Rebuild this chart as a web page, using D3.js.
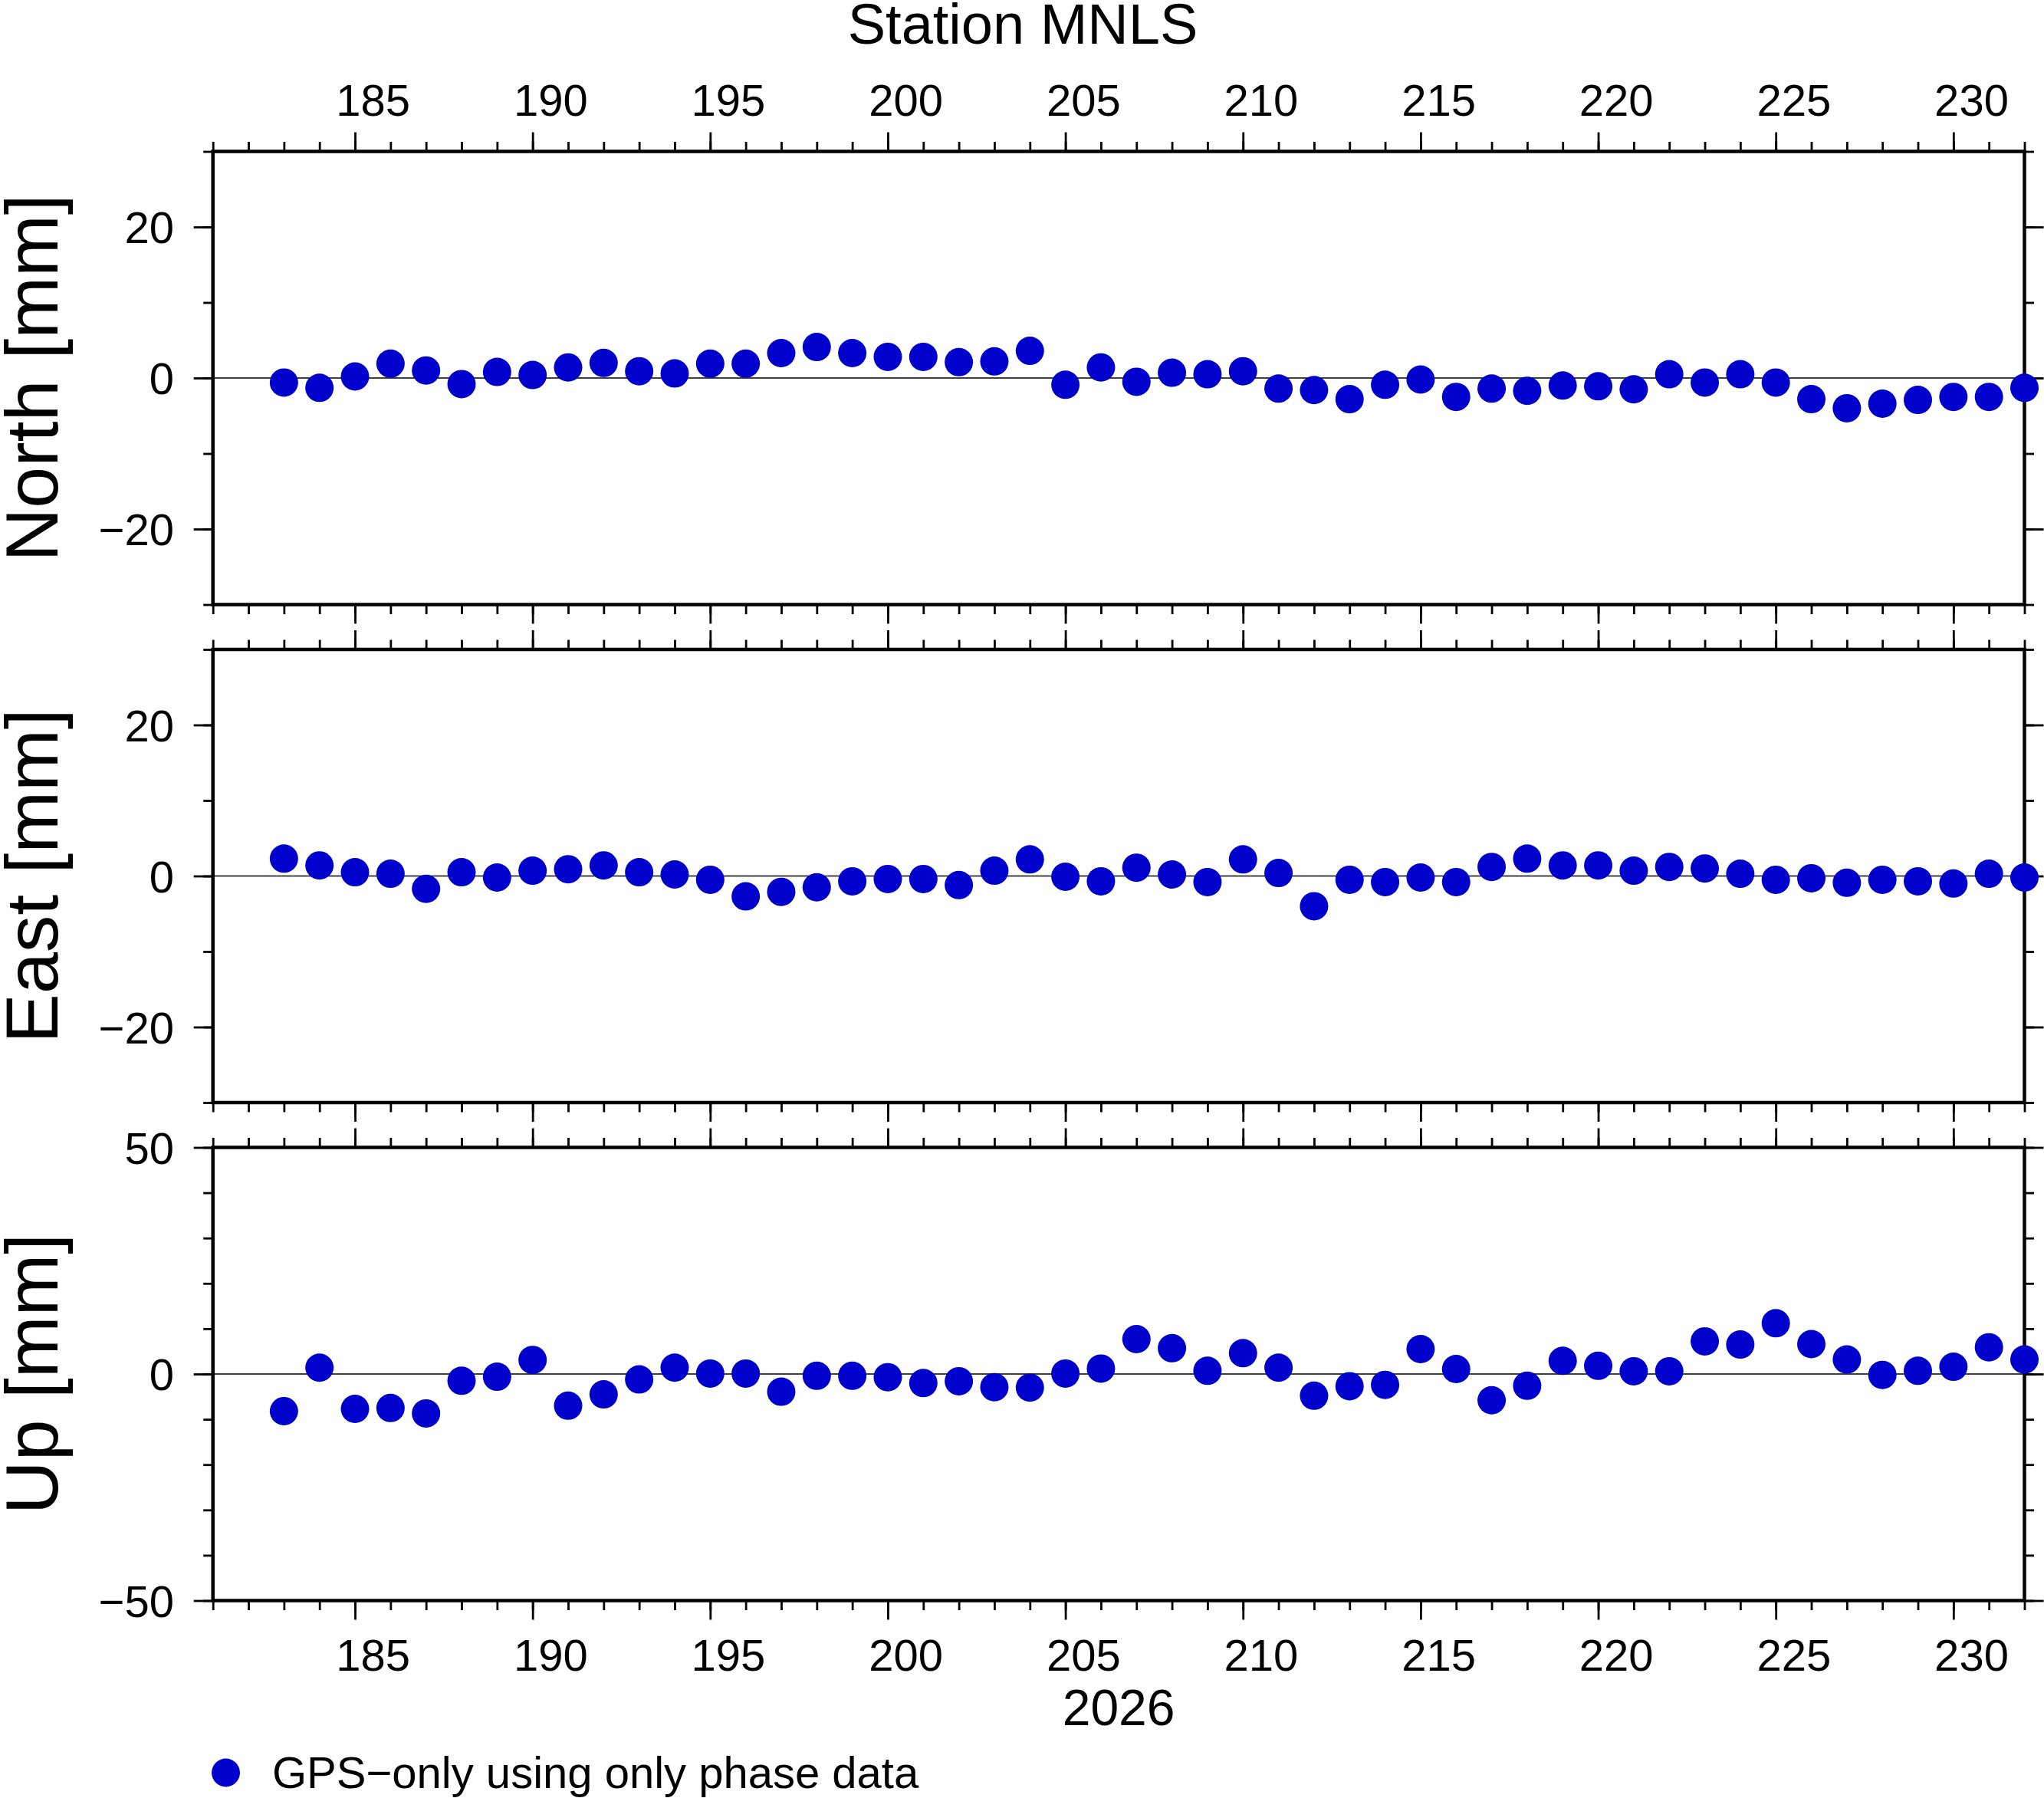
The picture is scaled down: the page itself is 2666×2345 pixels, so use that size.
<!DOCTYPE html>
<html lang="en">
<head>
    <meta charset="UTF-8">
    <title>Station MNLS</title>
    <script src="https://cdn.jsdelivr.net/npm/d3@7"></script>
    <style>
        body { margin: 0; background: #fff; }
        text { font-family: "Liberation Sans", Helvetica, Arial, sans-serif; fill: #000; }
    </style>
</head>
<body>
<script>
    // day of year 2026
    let days = d3.range(183, 233);

    let north = [-0.6, -1.3, 0.2, 1.9, 1.0, -0.8, 0.8, 0.4, 1.4, 2.0,
                 0.9, 0.6, 1.9, 1.9, 3.3, 4.1, 3.3, 2.8, 2.8, 2.1,
                 2.2, 3.6, -0.9, 1.4, -0.5, 0.7, 0.5, 0.9, -1.4, -1.6,
                 -2.8, -0.9, -0.2, -2.5, -1.4, -1.7, -1.0, -1.1, -1.5, 0.5,
                 -0.6, 0.5, -0.6, -2.8, -4.0, -3.4, -2.9, -2.5, -2.5, -1.3];

    let east = [2.3, 1.4, 0.5, 0.3, -1.7, 0.5, -0.2, 0.7, 0.9, 1.4,
                0.5, 0.2, -0.5, -2.7, -2.1, -1.5, -0.7, -0.4, -0.4, -1.2,
                0.7, 2.2, -0.1, -0.7, 1.1, 0.2, -0.8, 2.2, 0.4, -4.0,
                -0.5, -0.8, -0.2, -0.8, 1.2, 2.3, 1.4, 1.4, 0.7, 1.2,
                1.0, 0.3, -0.5, -0.3, -0.9, -0.5, -0.7, -1.0, 0.3, -0.2];

    let up = [-8.2, 1.4, -7.7, -7.5, -8.7, -1.5, -0.6, 3.1, -7.0, -4.5,
              -1.2, 1.4, 0.1, 0.1, -3.9, -0.4, -0.4, -0.7, -2.0, -1.6,
              -2.9, -3.0, 0.1, 1.2, 7.7, 5.7, 0.7, 4.6, 1.4, -4.8,
              -2.7, -2.4, 5.5, 1.1, -5.8, -2.6, 2.9, 1.8, 0.6, 0.6,
              7.2, 6.5, 11.2, 6.6, 3.2, -0.2, 0.7, 1.6, 5.9, 3.2];

    let xDomain = [181, 232];
    let xMajorTicks = [185, 190, 195, 200, 205, 210, 215, 220, 225, 230];

    let panelNames = ["North [mm]", "East [mm]", "Up [mm]"];
    let panelSeries = [north, east, up];
    let yDomains = [[-30, 30], [-30, 30], [-50, 50]];
    let yMajorTicks = [[-20, 0, 20], [-20, 0, 20], [-50, 0, 50]];
    let yMinorStep = 10;

    let title = "Station MNLS";
    let yearLabel = "2026";
    let legendLabel = "GPS\u2212only using only phase data";

    // layout
    let width = 2666, height = 2345;
    let left = 277.7, right = 2640.5;
    let panelTop = 197.5, panelH = 591, panelStep = 649.5;
    let minorLen = 12.5, majorLen = 25;
    let fontTick = 58;
    let dotColor = "#0000cc";
    let dotR = 18.5;

    let svg = d3.select("body")
        .append("svg")
        .attr("width", width)
        .attr("height", height);

    let xScale = d3.scaleLinear()
        .domain(xDomain)
        .range([left, right]);

    let halfDay = xScale(xDomain[0] + 0.5) - xScale(xDomain[0]);
    let xMinorTicks = d3.range(xDomain[0], xDomain[1] + 1);

    function styleAxis(g) {
        g.select(".domain").remove();
        g.selectAll(".tick line").attr("stroke", "#000").attr("stroke-width", 2.8);
        g.attr("font-family", null).attr("font-size", null);
    }

    panelNames.forEach(function (name, i) {
        let top = panelTop + i * panelStep;
        let bottom = top + panelH;
        let yScale = d3.scaleLinear()
            .domain(yDomains[i])
            .range([bottom, top]);
        let yMinor = d3.range(yDomains[i][0], yDomains[i][1] + 1, yMinorStep);

        let g = svg.append("g");

        // zero line
        g.append("line")
            .attr("x1", left).attr("x2", right)
            .attr("y1", yScale(0)).attr("y2", yScale(0))
            .attr("stroke", "#000")
            .attr("stroke-width", 1.3);

        // x ticks, top and bottom
        let isFirst = i === 0, isLast = i === panelNames.length - 1;
        [["top", top, d3.axisTop], ["bottom", bottom, d3.axisBottom]].forEach(function (s) {
            g.append("g")
                .attr("transform", "translate(0," + s[1] + ")")
                .call(s[2](xScale).tickValues(xMinorTicks).tickSize(minorLen).tickFormat(""))
                .call(styleAxis);
            let maj = g.append("g")
                .attr("transform", "translate(0," + s[1] + ")")
                .call(s[2](xScale).tickValues(xMajorTicks).tickSize(majorLen).tickFormat(d3.format("d")))
                .call(styleAxis);
            let showLabels = (s[0] === "top" && isFirst) || (s[0] === "bottom" && isLast);
            if (!showLabels) {
                maj.selectAll("text").remove();
            } else {
                maj.selectAll("text")
                    .attr("x", halfDay)
                    .attr("dy", null)
                    .attr("y", s[0] === "top" ? -(197.5 - 151) : (2178.5 - 2087.4))
                    .attr("text-anchor", "middle")
                    .attr("font-size", fontTick);
            }
        });

        // y ticks, left and right
        [[left, d3.axisLeft], [right, d3.axisRight]].forEach(function (s, k) {
            g.append("g")
                .attr("transform", "translate(" + s[0] + ",0)")
                .call(s[1](yScale).tickValues(yMinor).tickSize(minorLen).tickFormat(""))
                .call(styleAxis);
            let maj = g.append("g")
                .attr("transform", "translate(" + s[0] + ",0)")
                .call(s[1](yScale).tickValues(yMajorTicks[i]).tickSize(majorLen)
                    .tickFormat(d => d3.format("d")(d).replace("-", "\u2212")))
                .call(styleAxis);
            if (k === 1) {
                maj.selectAll("text").remove();
            } else {
                maj.selectAll("text")
                    .attr("x", -(left - 227))
                    .attr("dy", "0.36em")
                    .attr("text-anchor", "end")
                    .attr("font-size", fontTick);
            }
        });

        // frame
        g.append("rect")
            .attr("x", left).attr("y", top)
            .attr("width", right - left).attr("height", panelH)
            .attr("fill", "none")
            .attr("stroke", "#000")
            .attr("stroke-width", 4.5);

        // points
        g.selectAll("circle")
            .data(panelSeries[i])
            .enter()
            .append("circle")
            .attr("cx", (d, j) => xScale(days[j]))
            .attr("cy", d => yScale(d))
            .attr("r", dotR)
            .attr("fill", dotColor);

        // y axis title
        g.append("text")
            .text(name)
            .attr("transform", "translate(75," + (top + panelH / 2) + ") rotate(-90)")
            .attr("text-anchor", "middle")
            .attr("font-size", 97);
    });

    svg.append("text")
        .text(title)
        .attr("x", 1334)
        .attr("y", 57)
        .attr("text-anchor", "middle")
        .attr("font-size", 74);

    svg.append("text")
        .text(yearLabel)
        .attr("x", (left + right) / 2)
        .attr("y", 2250)
        .attr("text-anchor", "middle")
        .attr("font-size", 66);

    // legend
    svg.append("circle")
        .attr("cx", 294.5)
        .attr("cy", 2312)
        .attr("r", dotR)
        .attr("fill", dotColor);

    svg.append("text")
        .text(legendLabel)
        .attr("x", 355)
        .attr("y", 2332)
        .attr("font-size", fontTick);
</script>
</body>
</html>
